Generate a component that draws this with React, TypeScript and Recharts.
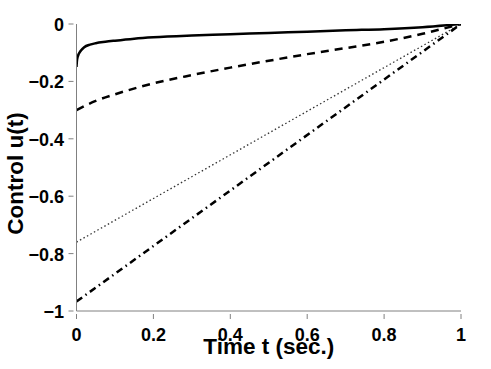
import { CartesianGrid, Line, LineChart, XAxis, YAxis } from "recharts";

const X_TICKS = [0, 0.2, 0.4, 0.6, 0.8, 1];
const Y_TICKS = [-1, -0.8, -0.6, -0.4, -0.2, 0];

// solid curve
const SOLID_T = [0, 0.001, 0.003, 0.006, 0.01, 0.02, 0.035, 0.05, 0.075, 0.1, 0.15, 0.2, 0.3, 0.4, 0.5, 0.6, 0.7, 0.8, 0.9, 1];
const SOLID_U = [-0.15, -0.13, -0.115, -0.104, -0.095, -0.081, -0.072, -0.067, -0.062, -0.058, -0.051, -0.046, -0.04, -0.036, -0.031, -0.027, -0.022, -0.018, -0.011, 0];

// dashed curve
const DASHED_T = [0, 0.05, 0.1, 0.2, 0.3, 0.4, 0.5, 0.6, 0.7, 0.8, 0.9, 1];
const DASHED_U = [-0.3, -0.268, -0.245, -0.207, -0.178, -0.152, -0.128, -0.105, -0.084, -0.062, -0.034, 0];

// dotted line
const DOTTED_T = [0, 1];
const DOTTED_U = [-0.76, 0];

// dash-dot line
const DASHDOT_T = [0, 1];
const DASHDOT_U = [-0.967, 0];

const toRows = (t: number[], u: number[]) => t.map((v, i) => ({ t: v, u: u[i] }));

const AXIS = "#808080";
const FONT = "'Liberation Sans', Arial, sans-serif";
const fmt = (v: number) => String(v).replace("-", "\u2212");

function XTick(props: any) {
  const { x, y, payload } = props;
  return (
    <g>
      <line x1={x} x2={x} y1={y} y2={y - 5} stroke={AXIS} strokeWidth={1} />
      <text x={x} y={y + 22} textAnchor="middle" fontFamily={FONT} fontWeight="bold" fontSize={18} fill="#000">
        {fmt(payload.value)}
      </text>
    </g>
  );
}

function YTick(props: any) {
  const { x, y, payload } = props;
  return (
    <g>
      <line x1={x} x2={x + 5} y1={y} y2={y} stroke={AXIS} strokeWidth={1} />
      <text x={x - 4.5} y={y + 7} textAnchor="end" fontFamily={FONT} fontWeight="bold" fontSize={18} fill="#000">
        {fmt(payload.value)}
      </text>
    </g>
  );
}

const xLabel = (props: any) => {
  const vb = props.viewBox;
  return (
    <text x={vb.x + vb.width / 2} y={vb.y + 43} textAnchor="middle" fontFamily={FONT} fontWeight="bold" fontSize={22.5} fill="#000">
      Time t (sec.)
    </text>
  );
};

const yLabel = (props: any) => {
  const vb = props.viewBox;
  const cy = vb.y + vb.height / 2 + 6;
  return (
    <text
      transform={`translate(23, ${cy}) rotate(-90)`}
      x={0}
      y={0}
      textAnchor="middle"
      fontFamily={FONT}
      fontWeight="bold"
      fontSize={22.5}
      fill="#000"
    >
      Control u(t)
    </text>
  );
};

export default function App() {
  return (
    <div style={{ position: "absolute", left: 0, top: 0, background: "#fff" }}>
      <LineChart width={491} height={369} margin={{ top: 24, right: 30, bottom: 0, left: 0 }}>
        <CartesianGrid horizontal={false} vertical={false} />
        <XAxis
          type="number"
          dataKey="t"
          domain={[0, 1]}
          ticks={X_TICKS}
          height={58}
          stroke={AXIS}
          tickLine={false}
          tick={<XTick />}
          allowDataOverflow
          label={{ content: xLabel }}
        />
        <YAxis
          type="number"
          domain={[-1, 0]}
          ticks={Y_TICKS}
          width={76.5}
          stroke={AXIS}
          tickLine={false}
          tick={<YTick />}
          allowDataOverflow
          label={{ content: yLabel }}
        />
        <Line data={toRows(SOLID_T, SOLID_U)} dataKey="u" type="monotone" stroke="#000" strokeWidth={2.5} dot={false} isAnimationActive={false} />
        <Line data={toRows(DASHED_T, DASHED_U)} dataKey="u" type="monotone" stroke="#000" strokeWidth={2.5} strokeDasharray="8 6" dot={false} isAnimationActive={false} />
        <Line data={toRows(DOTTED_T, DOTTED_U)} dataKey="u" type="linear" stroke="#333" strokeWidth={1.3} strokeDasharray="1.5 2.5" dot={false} isAnimationActive={false} />
        <Line data={toRows(DASHDOT_T, DASHDOT_U)} dataKey="u" type="linear" stroke="#000" strokeWidth={2.5} strokeDasharray="7 4 1.5 4" dot={false} isAnimationActive={false} />
      </LineChart>
    </div>
  );
}
